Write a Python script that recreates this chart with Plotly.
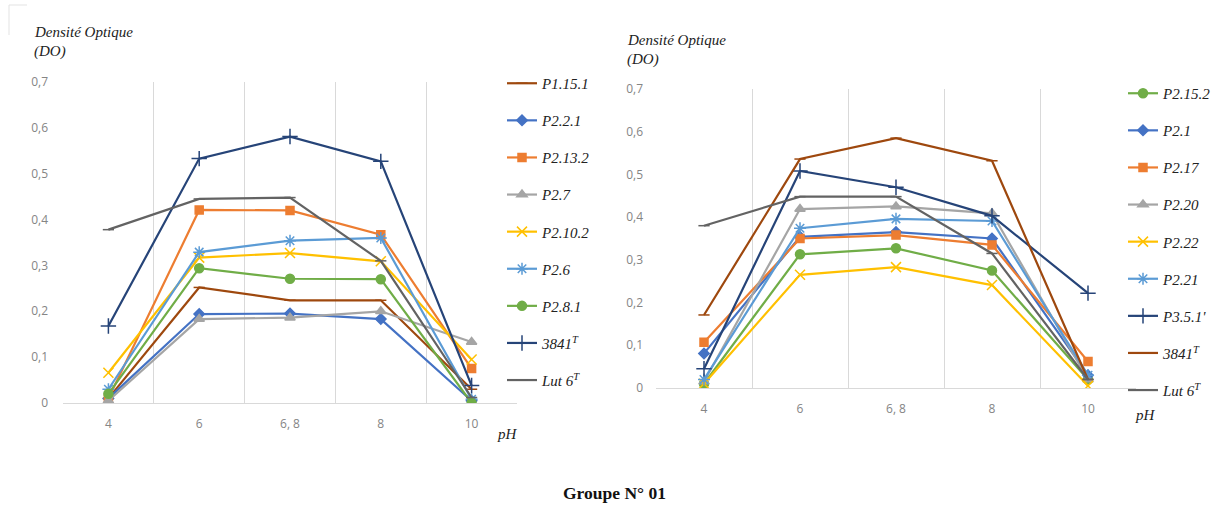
import plotly.graph_objects as go

W, H = 1222, 511

# pH categories and y tick labels
ph_labels = ["4", "6", "6, 8", "8", "10"]
y_ticks = [0, 0.1, 0.2, 0.3, 0.4, 0.5, 0.6, 0.7]
y_tick_text = ["0", "0,1", "0,2", "0,3", "0,4", "0,5", "0,6", "0,7"]

# Left panel series (optical density)
left_names = ["P1.15.1", "P2.2.1", "P2.13.2", "P2.7", "P2.10.2", "P2.6", "P2.8.1",
              "3841<sup>T</sup>", "Lut 6<sup>T</sup>"]
p1_15_1 = [0.010, 0.252, 0.224, 0.224, 0.030]
p2_2_1 = [0.010, 0.194, 0.195, 0.183, 0.005]
p2_13_2 = [0.010, 0.421, 0.420, 0.367, 0.075]
p2_7 = [0.005, 0.183, 0.186, 0.200, 0.133]
p2_10_2 = [0.066, 0.317, 0.327, 0.309, 0.095]
p2_6 = [0.030, 0.329, 0.354, 0.360, 0.008]
p2_8_1 = [0.020, 0.294, 0.271, 0.270, 0.000]
s3841_left = [0.168, 0.533, 0.581, 0.527, 0.038]
lut6_left = [0.378, 0.445, 0.448, 0.310, 0.012]

# Right panel series (optical density)
right_names = ["P2.15.2", "P2.1", "P2.17", "P2.20", "P2.22", "P2.21", "P3.5.1'",
               "3841<sup>T</sup>", "Lut 6<sup>T</sup>"]
p2_15_2 = [0.010, 0.313, 0.327, 0.275, 0.020]
p2_1 = [0.081, 0.354, 0.365, 0.350, 0.030]
p2_17 = [0.107, 0.350, 0.358, 0.335, 0.062]
p2_20 = [0.015, 0.419, 0.425, 0.409, 0.020]
p2_22 = [0.010, 0.265, 0.283, 0.241, 0.005]
p2_21 = [0.020, 0.374, 0.396, 0.391, 0.030]
p3_5_1 = [0.045, 0.508, 0.470, 0.403, 0.222]
s3841_right = [0.171, 0.536, 0.585, 0.532, 0.020]
lut6_right = [0.380, 0.448, 0.448, 0.315, 0.020]

left_values = [p1_15_1, p2_2_1, p2_13_2, p2_7, p2_10_2, p2_6, p2_8_1, s3841_left, lut6_left]
right_values = [p2_15_2, p2_1, p2_17, p2_20, p2_22, p2_21, p3_5_1, s3841_right, lut6_right]

BLUE, ORANGE, GRAY, YELLOW = "#4472C4", "#ED7D31", "#A5A5A5", "#FFC000"
LBLUE, GREEN, NAVY, BROWN, DGRAY = "#5B9BD5", "#70AD47", "#264478", "#9E480E", "#636363"

left_styles = [
    (BROWN, "line-ew-open", 8),
    (BLUE, "diamond", 8),
    (ORANGE, "square", 8),
    (GRAY, "triangle-up", 9),
    (YELLOW, "x-thin-open", 10),
    (LBLUE, "asterisk-open", 10),
    (GREEN, "circle", 9),
    (NAVY, "cross-thin-open", 11),
    (DGRAY, "line-ew-open", 8),
]
right_styles = [
    (GREEN, "circle", 9),
    (BLUE, "diamond", 8),
    (ORANGE, "square", 8),
    (GRAY, "triangle-up", 9),
    (YELLOW, "x-thin-open", 10),
    (LBLUE, "asterisk-open", 10),
    (NAVY, "cross-thin-open", 11),
    (BROWN, "line-ew-open", 8),
    (DGRAY, "line-ew-open", 8),
]


def px_x(x):
    return x / W


def px_y(y):
    return 1 - y / H


fig = go.Figure()


def add_panel(names, values, styles, xa, ya, legend_id, prefix):
    for name, vals, (color, symbol, size) in zip(names, values, styles):
        fig.add_trace(go.Scatter(
            x=ph_labels, y=vals, name=name, mode="lines+markers",
            xaxis=xa, yaxis=ya, legend=legend_id,
            legendgroup=prefix + name,
            line=dict(color=color, width=2.2),
            marker=dict(symbol=symbol, size=size, color=color,
                        line=dict(color=color, width=1.5)),
        ))


add_panel(left_names, left_values, left_styles, "x", "y", "legend", "L")
add_panel(right_names, right_values, right_styles, "x2", "y2", "legend2", "R")

tick_font = dict(family="Open Sans, Noto Sans, sans-serif", size=12, color="#858585")
grid = "#d9d9d9"

xaxis_common = dict(
    type="category", categoryorder="array", categoryarray=ph_labels,
    range=[-0.5, 4.5], tickson="boundaries", showgrid=True, gridcolor=grid,
    gridwidth=1, ticks="", showline=True, linecolor=grid, linewidth=1,
    tickfont=tick_font, zeroline=False, fixedrange=True,
)
yaxis_common = dict(
    range=[0, 0.7], tickvals=y_ticks, ticktext=y_tick_text, showgrid=False,
    zeroline=False, showline=False, ticks="", tickfont=tick_font, fixedrange=True,
)

serif = "Liberation Serif, Times New Roman, serif"
legend_font = dict(family=serif, size=15, color="#222222", style="italic")
legend_common = dict(
    font=legend_font, bgcolor="rgba(0,0,0,0)", borderwidth=0,
    tracegroupgap=14.6, itemwidth=30, xanchor="left", yanchor="top",
)

axis_title_font = dict(family=serif, size=15, color="#222222", style="italic")

fig.update_layout(
    width=W, height=H,
    margin=dict(l=0, r=0, t=0, b=0, autoexpand=False),
    paper_bgcolor="white", plot_bgcolor="white",
    xaxis=dict(domain=[px_x(63), px_x(517)], anchor="y",
               ticklabelstandoff=10, **xaxis_common),
    yaxis=dict(domain=[px_y(403), px_y(82)], anchor="x",
               ticklabelstandoff=14, **yaxis_common),
    xaxis2=dict(domain=[px_x(656), px_x(1136)], anchor="y2",
                ticklabelstandoff=10, **xaxis_common),
    yaxis2=dict(domain=[px_y(388), px_y(89)], anchor="x2",
                ticklabelstandoff=12, **yaxis_common),
    legend=dict(x=px_x(502), y=px_y(67), **legend_common),
    legend2=dict(x=px_x(1123), y=px_y(77), **legend_common),
    showlegend=True,
)

annotations = [
    (32, 32, "Densité Optique"),
    (32, 51, "(DO)"),
    (625, 40, "Densité Optique"),
    (625, 59, "(DO)"),
    (495, 434, "pH"),
    (1133, 415, "pH"),
]
for x, y, text in annotations:
    fig.add_annotation(xref="paper", yref="paper", x=px_x(x), y=px_y(y),
                       xanchor="left", yanchor="middle", text=text,
                       showarrow=False, font=axis_title_font)

fig.add_annotation(xref="paper", yref="paper", x=px_x(614), y=px_y(493),
                   xanchor="center", yanchor="middle", text="<b>Groupe N° 01</b>",
                   showarrow=False,
                   font=dict(family=serif, size=17.5, color="#111111"))

# faint frame corner at the top left
fig.add_shape(type="line", xref="paper", yref="paper",
              x0=px_x(9), x1=px_x(27), y0=px_y(5), y1=px_y(5),
              line=dict(color="#e3e3e3", width=1))
fig.add_shape(type="line", xref="paper", yref="paper",
              x0=px_x(9), x1=px_x(9), y0=px_y(5), y1=px_y(35),
              line=dict(color="#e3e3e3", width=1))

fig.write_html("out.html")
